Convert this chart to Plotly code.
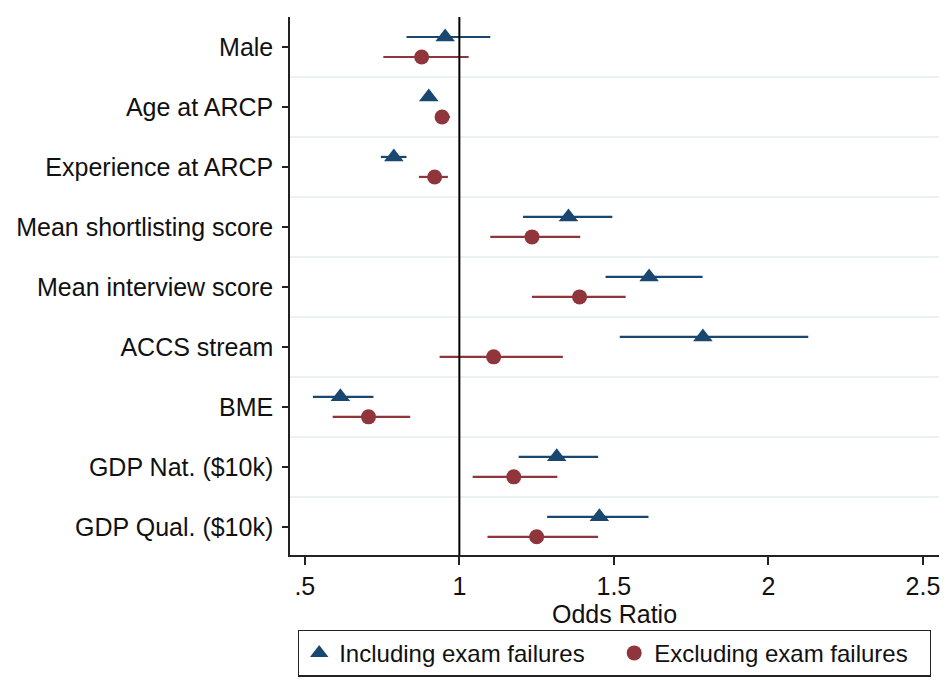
import plotly.graph_objects as go

categories = ["Male", "Age at ARCP", "Experience at ARCP", "Mean shortlisting score",
              "Mean interview score", "ACCS stream", "BME", "GDP Nat. ($10k)", "GDP Qual. ($10k)"]

incl_or = [0.954, 0.901, 0.788, 1.353, 1.614, 1.788, 0.615, 1.315, 1.453]
incl_lo = [0.829, 0.885, 0.746, 1.206, 1.473, 1.519, 0.526, 1.192, 1.284]
incl_hi = [1.100, 0.917, 0.829, 1.495, 1.787, 2.129, 0.722, 1.449, 1.612]

excl_or = [0.878, 0.944, 0.920, 1.235, 1.389, 1.111, 0.706, 1.176, 1.250]
excl_lo = [0.754, 0.925, 0.869, 1.100, 1.235, 0.936, 0.590, 1.043, 1.091]
excl_hi = [1.030, 0.970, 0.963, 1.391, 1.538, 1.335, 0.841, 1.317, 1.449]

xticks = [0.5, 1, 1.5, 2, 2.5]
xticklabels = [".5", "1", "1.5", "2", "2.5"]

NAVY = "#1a476f"
MAROON = "#90353b"
GRID = "#eaf2f3"
FONT = "Liberation Sans, Arial, sans-serif"

idx = list(range(len(categories)))
off = 1 / 6

fig = go.Figure()
fig.add_trace(go.Scatter(
    x=incl_or, y=[i - off for i in idx], mode="markers",
    name="Including exam failures",
    marker=dict(symbol="triangle-up", size=17, color=NAVY),
    error_x=dict(type="data", symmetric=False,
                 array=[h - o for h, o in zip(incl_hi, incl_or)],
                 arrayminus=[o - l for o, l in zip(incl_or, incl_lo)],
                 color=NAVY, thickness=2.2, width=0),
))
fig.add_trace(go.Scatter(
    x=excl_or, y=[i + off for i in idx], mode="markers",
    name="Excluding exam failures",
    marker=dict(symbol="circle", size=15, color=MAROON),
    error_x=dict(type="data", symmetric=False,
                 array=[h - o for h, o in zip(excl_hi, excl_or)],
                 arrayminus=[o - l for o, l in zip(excl_or, excl_lo)],
                 color=MAROON, thickness=2.2, width=0),
))

fig.add_vline(x=1, line=dict(color="black", width=2))

fig.update_layout(
    width=940, height=680,
    margin=dict(l=278, r=8, t=9, b=133),
    paper_bgcolor="white", plot_bgcolor="white",
    font=dict(family=FONT, size=25, color="#111111"),
    showlegend=True,
    legend=dict(orientation="h", x=0.5, xanchor="center", y=-0.226, yanchor="bottom",
                bordercolor="#222222", borderwidth=1.2, font=dict(size=24, family=FONT),
                itemwidth=30, tracegroupgap=0, entrywidth=270, entrywidthmode="pixels"),
    xaxis=dict(range=[0.452, 2.552], tickvals=xticks, ticktext=xticklabels,
               showgrid=False, zeroline=False, showline=True, linecolor="#222222",
               linewidth=1.5, ticks="outside", ticklen=8, tickwidth=1.5,
               tickcolor="#222222", tickfont=dict(size=25),
               title=dict(text="Odds Ratio", font=dict(size=25), standoff=2)),
    yaxis=dict(range=[8.47, -0.5], tickvals=idx, ticktext=categories,
               showgrid=False, zeroline=False, showline=True, linecolor="#222222",
               linewidth=1.5, ticks="outside", ticklen=6, tickwidth=1.5,
               tickcolor="#222222", tickfont=dict(size=25), ticklabelstandoff=4,
               minor=dict(tickvals=[i + 0.5 for i in idx[:-1]], showgrid=True,
                          gridcolor=GRID, gridwidth=2, ticks="")),
)

fig.write_html("out.html")
